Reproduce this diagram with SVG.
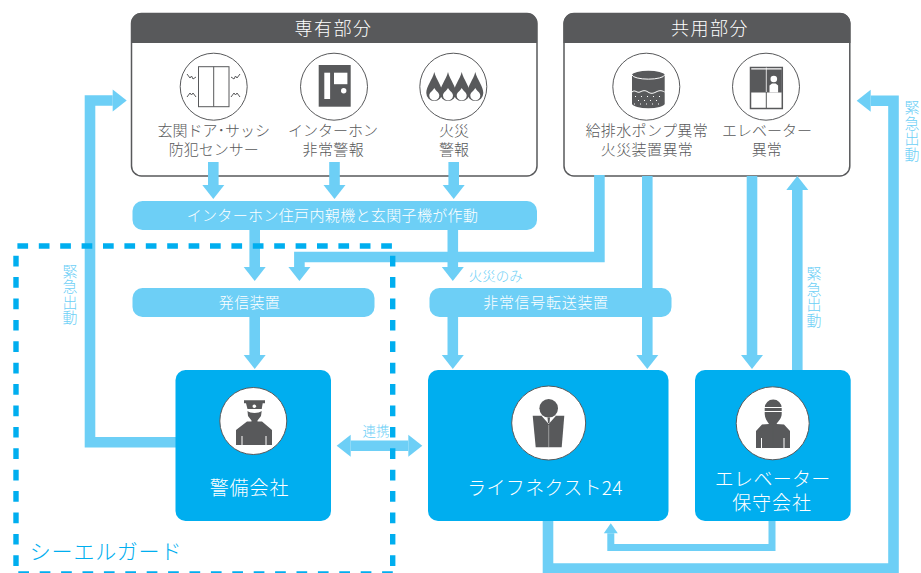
<svg xmlns="http://www.w3.org/2000/svg" width="921" height="573" viewBox="0 0 921 573">
<style>
text{font-family:"Noto Sans CJK JP","Noto Sans",sans-serif;font-weight:300;text-anchor:middle}
.panel{fill:#fff;stroke:#58595b;stroke-width:1.5}
.head{fill:#58595b}
.ht{fill:#fff;font-size:18px;letter-spacing:1.500px}
.lb{fill:#58595b;font-size:15px}
.lw{fill:#58595b;font-size:15px;letter-spacing:.4px}
.pill{fill:#6dcff6}
.pt{fill:#fff;font-size:15px;letter-spacing:.35px}
.pt2{fill:#fff;font-size:15px;letter-spacing:.7px}
.co{fill:#00aeef}
.ct{fill:#fff;font-size:19px;letter-spacing:.9px}
.ck{fill:#fff;font-size:19px;letter-spacing:.3px}
.ic{fill:#fff;stroke:#58595b;stroke-width:1}
.d{fill:#58595b}
.w{fill:#fff}
.wl{fill:none;stroke:#fff;stroke-width:1}
.dl{fill:none;stroke:#58595b;stroke-width:1}
.arr{fill:none;stroke:#6dcff6;stroke-width:10.6;marker-end:url(#ah)}
.small{fill:none;stroke:#6dcff6;stroke-width:7;marker-end:url(#sh)}
.note{fill:#6dcff6;font-size:13.5px}
.v{fill:#6dcff6;font-size:15px}
.dash{fill:none;stroke:#00aeef;stroke-width:5.4;stroke-dasharray:10.7 10.7}
</style>
<defs>
<marker id="ah" markerUnits="userSpaceOnUse" markerWidth="15" markerHeight="22" refX="0" refY="11" orient="auto-start-reverse" overflow="visible"><path d="M0 0L14 11L0 22Z" fill="#6dcff6"/></marker>
<marker id="sh" markerUnits="userSpaceOnUse" markerWidth="10" markerHeight="14" refX="0" refY="7" orient="auto" overflow="visible"><path d="M0 0L10 7L0 14Z" fill="#6dcff6"/></marker>
<path id="flame" d="M0 72C2 80 8 86 8 93A8 8 0 0 1-8 93C-8 86-2 80 0 72Z" fill="#58595b"/>
<path id="drop" d="M0 88C1.500 91 5 92.500 5 95.500A5 5 0 0 1-5 95.500C-5 92.500-1.500 91 0 88Z" fill="#fff"/>
</defs>

<g id="private-area">
<rect class="panel" x="131.500" y="13.500" width="405.500" height="162.500" rx="10"/>
<path class="head" d="M131 43V23a10 10 0 0 1 10-10H527a10 10 0 0 1 10 10V43Z"/>
<text class="ht" x="333.500" y="35">専有部分</text>
<g id="door-sensor">
<circle class="ic" cx="213.700" cy="86.700" r="33.500"/>
<rect x="198.500" y="66.700" width="30.500" height="40" fill="#fff" stroke="#58595b" stroke-width="1"/>
<path class="dl" d="M213.700 66.700V106.700M187 74l3 4 1.500-2 1.500 3 3-2M187 97l3-4 1.500 2 1.500-2 3 4M240 74l-3 4-1.500-2-1.500 3-3-2M240 97l-3-4-1.500 2-1.500-2-3 4"/>
<text class="lb" x="213.800" y="136">玄関ドア･サッシ</text>
<text class="lb" x="213.800" y="155">防犯センサー</text>
</g>
<g id="intercom">
<circle class="ic" cx="334" cy="86.700" r="33.500"/>
<rect class="d" x="318.700" y="65" width="32" height="41.700"/>
<rect class="w" x="324.300" y="72.700" width="5.800" height="26.300"/>
<rect class="w" x="334" y="72.700" width="13.400" height="11.500"/>
<circle class="w" cx="343.700" cy="90.700" r="2.700"/>
<text class="lb" x="333" y="136">インターホン</text>
<text class="lw" x="333.300" y="155">非常警報</text>
</g>
<g id="fire">
<circle class="ic" cx="453.300" cy="86.700" r="33.500"/>
<use href="#flame" x="434.300"/><use href="#flame" x="448"/><use href="#flame" x="461.700"/><use href="#flame" x="475.300"/>
<use href="#drop" x="434.300"/><use href="#drop" x="448"/><use href="#drop" x="461.700"/><use href="#drop" x="475.300"/>
<text class="lb" x="454" y="136">火災</text>
<text class="lb" x="454" y="155">警報</text>
</g>
</g>

<g id="common-area">
<rect class="panel" x="564" y="13.500" width="285.800" height="162.500" rx="10"/>
<path class="head" d="M563.500 43V23a10 10 0 0 1 10-10H840.500a10 10 0 0 1 10 10V43Z"/>
<text class="ht" x="710" y="35">共用部分</text>
<g id="pump">
<circle class="ic" cx="646.300" cy="86.700" r="33.500"/>
<path class="d" d="M632 75a16.400 4.500 0 0 1 32.700 0V104a16.400 4.500 0 0 1-32.700 0Z"/>
<path class="wl" d="M632 75a16.400 4.500 0 0 0 32.700 0M632 92c3-3 5 1.500 8 0s5-2 8 0 5 1.500 8 0 5-2 8.700 0"/>
<path class="wl" stroke-dasharray="1 5" d="M635 96.500H662M638 100.500H660M634 104H663"/>
<text class="lw" x="646.800" y="136">給排水ポンプ異常</text>
<text class="lw" x="647" y="155">火災装置異常</text>
</g>
<g id="elevator">
<circle class="ic" cx="766" cy="86.700" r="33.500"/>
<rect x="750.500" y="67.500" width="31.800" height="41" fill="#fff" stroke="#58595b" stroke-width="1.500"/>
<rect class="d" x="751" y="69.500" width="30.800" height="23"/>
<path d="M766.300 67.500V92" fill="none" stroke="#fff" stroke-width="0.800"/>
<path class="dl" d="M766.300 92V108.500"/>
<circle class="w" cx="773.800" cy="79" r="3.300"/>
<path class="w" d="M769.500 92.500V85.500L772 83.500H775.600L778.100 85.500V92.500Z"/>
<text class="lb" x="767" y="136">エレベーター</text>
<text class="lb" x="766.700" y="155">異常</text>
</g>
</g>

<g id="connectors">
<path class="arr" d="M213.300 162V185"/>
<path class="arr" d="M334.500 162V185"/>
<path class="arr" d="M453.700 162V185"/>
<path class="arr" d="M254.700 230V267"/>
<path class="arr" d="M599.400 175V257H299.400V267"/>
<path class="arr" d="M452.800 230V267"/>
<path class="arr" d="M254.700 317V355"/>
<path class="arr" d="M452.800 317V355"/>
<path class="arr" d="M647.300 176V355"/>
<path class="arr" d="M752 176V355"/>
<path class="arr" d="M797.300 370V190"/>
<path class="arr" d="M176 442.200H90V100.500H112.700"/>
<path class="arr" d="M548 521V568.500H893.500V100.700H870.700"/>
<path class="small" d="M772 521V547.500H610.800V533.300"/>
<path d="M350.700 445.700H408.300" class="arr" style="marker-start:url(#ah)"/>
<text class="v" x="70 70 70 70" y="276.500 292 307.500 323">緊急出動</text>
<text class="v" x="814 814 814 814" y="279 294.500 310 325.500">緊急出動</text>
<text class="v" x="912 912 912 912" y="113 128.500 144 159.500">緊急出動</text>
<text class="note" x="376" y="436">連携</text>
<text class="note" x="495.800" y="281">火災のみ</text>
</g>

<g id="pill-interphone">
<rect class="pill" x="132.500" y="201" width="404.500" height="29" rx="10"/>
<text class="pt" x="332.500" y="221">インターホン住戸内親機と玄関子機が作動</text>
</g>
<g id="pill-sender">
<rect class="pill" x="132.500" y="288" width="242" height="29" rx="10"/>
<text class="pt" x="249.500" y="307.500">発信装置</text>
</g>
<g id="pill-transfer">
<rect class="pill" x="429.500" y="288" width="242" height="29" rx="10"/>
<text class="pt2" x="546" y="307.500">非常信号転送装置</text>
</g>

<g id="security-company">
<rect class="co" x="175.500" y="370" width="155.500" height="151" rx="10"/>
<circle class="ic" cx="253.300" cy="421" r="33.500"/>
<path class="d" d="M244 400.300H265V403.300H262.700L261.700 409H247.500L246 403.300H244Z"/>
<circle class="w" cx="254.300" cy="406.300" r="1.800"/>
<path class="d" d="M247.500 411C250 413.500 259 413.500 261.700 411L261 416 257.500 420.500V421.500H262L272 430V445H236V430L247 421.500H251.500V420.500L248 416Z"/>
<path class="wl" d="M242 436V445M266 436V445"/>
<text class="ct" x="249.500" y="494.500">警備会社</text>
</g>
<g id="lifenext">
<rect class="co" x="428" y="370" width="240.500" height="151" rx="10"/>
<circle class="ic" cx="548.700" cy="423" r="37"/>
<path class="d" d="M532.700 415.700H564.300L561.700 447.300H535.700Z"/>
<path class="w" d="M541.500 415.700H556L548.700 424Z"/>
<circle class="d" cx="548.700" cy="408.300" r="9.300"/>
<path class="d" d="M547.500 417.500H550L549.500 423H548Z"/>
<path class="wl" d="M548.700 425V447.300" stroke-opacity="0.400"/>
<text class="ck" x="545" y="494.500">ライフネクスト24</text>
</g>
<g id="elevator-company">
<rect class="co" x="695" y="370" width="155.700" height="151" rx="10"/>
<circle class="ic" cx="772.700" cy="423.300" r="36.500"/>
<path class="d" d="M764.700 408A8.500 8.500 0 0 1 781.700 408V414C781.700 418 778.500 421 776.500 424L784 424.500 790 431V448H756V431L762 424.500 769 424C767 421 764.700 418 764.700 414Z"/>
<path class="wl" d="M764 407.500H782M764 411.500H782M761.500 438V448M784 438V448"/>
<path class="dl" d="M773 424V448" stroke-opacity="0.400"/>
<text class="ck" x="772.700" y="485.500">エレベーター</text>
<text class="ct" x="772" y="510.300">保守会社</text>
</g>

<g id="cl-guard">
<path class="dash" d="M17.400 246H393"/>
<path class="dash" d="M16 255.700V572"/>
<path class="dash" d="M392.700 255.700V572"/>
<path class="dash" d="M18.300 574H393"/>
<text x="106" y="559" fill="#00aeef" font-size="21" letter-spacing="0.900">シーエルガード</text>
</g>
</svg>
